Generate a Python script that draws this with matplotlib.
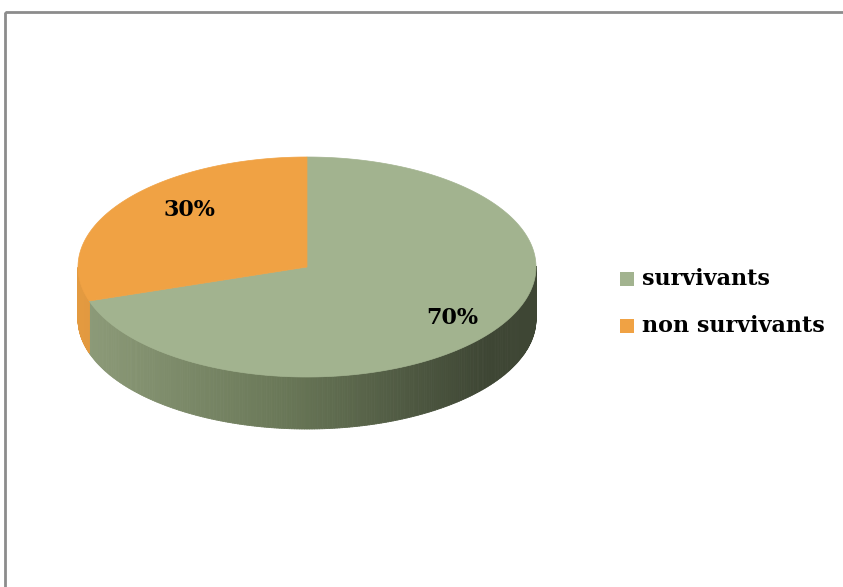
import numpy as np
import matplotlib
matplotlib.use("Agg")
import matplotlib.pyplot as plt
from matplotlib.patches import Polygon, Rectangle
from matplotlib.collections import PolyCollection
from matplotlib.colors import LinearSegmentedColormap, to_rgb

# data
labels = ["survivants", "non survivants"]
values = [70, 30]
top_colors = ["#A2B38F", "#F0A244"]
side_colors = [("#8E9C7A", "#6A7858", "#3E4634"), ("#E39A40", "#D08A36", "#B87A2E")]

# layout (pixel space)
W, H = 843, 587
cx, cy = 307, 267
a, b = 229, 110
depth = 52
label_pos = [(452, 318), (189, 210)]

fig = plt.figure(figsize=(W / 100, H / 100), dpi=100)
ax = fig.add_axes([0, 0, 1, 1])
ax.set_xlim(0, W)
ax.set_ylim(H, 0)
ax.axis("off")

# chart border
ax.add_patch(Rectangle((5, 12), W + 20, H + 20, fill=False, ec="#8C8C8C", lw=2))


def pt(theta_deg, dy=0.0):
    t = np.radians(theta_deg)
    return cx + a * np.cos(t), cy - b * np.sin(t) + dy


# slice angles: start at 12 o'clock, clockwise
total = float(sum(values))
angles = []
start = 90.0
for v in values:
    end = start - 360.0 * v / total
    angles.append((end, start))
    start = end

# side of the pie (front half only)
for (lo, hi), cols in zip(angles, side_colors):
    cmap = LinearSegmentedColormap.from_list("side", [to_rgb(c) for c in cols])
    ths = np.linspace(lo, hi, 400)
    polys, fcs = [], []
    for t1, t2 in zip(ths[:-1], ths[1:]):
        if np.sin(np.radians((t1 + t2) / 2)) > 0:
            continue
        x1, y1 = pt(t1)
        x2, y2 = pt(t2)
        polys.append([(x1, y1), (x2, y2), (x2, y2 + depth), (x1, y1 + depth)])
        frac = ((x1 + x2) / 2 - (cx - a)) / (2 * a) * 1.12
        fcs.append(cmap(float(min(max(frac, 0.0), 1.0))))
    if polys:
        ax.add_collection(PolyCollection(polys, facecolors=fcs, edgecolors=fcs, lw=0.6))

# top of the pie
for (lo, hi), c in zip(angles, top_colors):
    ths = np.linspace(lo, hi, 300)
    verts = [(cx, cy)] + [pt(t) for t in ths]
    ax.add_patch(Polygon(verts, closed=True, fc=c, ec=c, lw=0.5))

# percentage labels
for v, (x, y) in zip(values, label_pos):
    ax.text(x, y, f"{v}%", ha="center", va="center", fontsize=16,
            fontweight="bold", family="DejaVu Serif", color="black")

# legend
for i, (lab, c) in enumerate(zip(labels, top_colors)):
    y = 279 + i * 47
    ax.add_patch(Rectangle((620, y - 7), 14, 14, fc=c, ec="none"))
    ax.text(642, y, lab, ha="left", va="center", fontsize=16,
            fontweight="bold", family="DejaVu Serif", color="black")

fig.savefig("out.png", dpi=100)
